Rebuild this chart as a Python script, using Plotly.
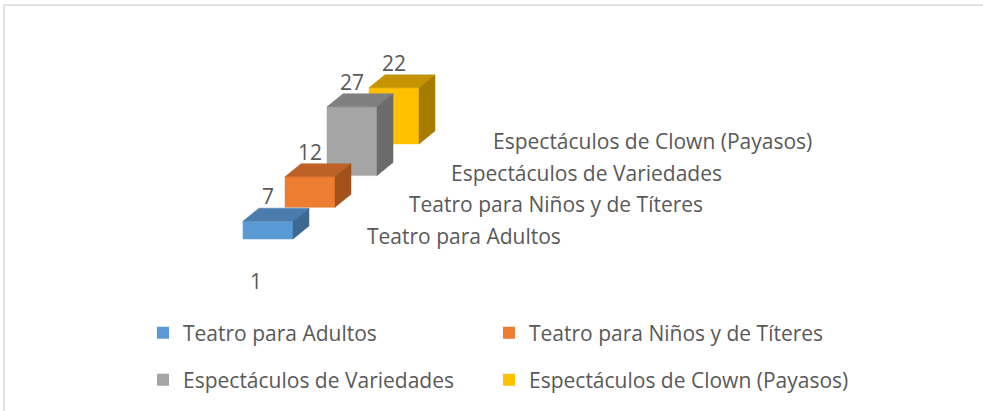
import plotly.graph_objects as go

# ---- data ----
series_names = ["Teatro para Adultos", "Teatro para Niños y de Títeres",
                "Espectáculos de Variedades", "Espectáculos de Clown (Payasos)"]
values = [7, 12, 27, 22]
category_labels = ["1"]

front_colors = ["#5B9BD5", "#ED7D31", "#A5A5A5", "#FFC000"]
top_colors = ["#4A7DAE", "#BE6126", "#7F7F7F", "#C59400"]
side_colors = ["#3D6892", "#A0511C", "#6B6B6B", "#A67C00"]

# ---- geometry of the oblique 3D projection (in axis units) ----
W = 983
H = 411
px_per_x = 50.0          # pixels per x unit (bar width = 1)
px_per_y = 2.55          # pixels per value unit
x0_px, y0_px = 243, 239  # where the first bar's front-bottom-left sits
bar_w = 1.0
step_x = 42 / px_per_x   # series (depth axis) offset
step_y = 31.7 / px_per_y
depth_x = 16 / px_per_x  # box depth
depth_y = 13 / px_per_y

xr = [-x0_px / px_per_x, (W - x0_px) / px_per_x]
yr = [-(H - y0_px) / px_per_y, y0_px / px_per_y]

FONT = "Open Sans"
TXT = "#595959"
FS = 21

fig = go.Figure()
annotations = []

order = list(range(len(values)))[::-1]  # back to front
for i in order:
    v = values[i]
    xs = i * step_x
    b = i * step_y
    t = b + v
    faces = [
        ([xs, xs + bar_w, xs + bar_w, xs, xs], [b, b, t, t, b], front_colors[i]),
        ([xs, xs + bar_w, xs + bar_w + depth_x, xs + depth_x, xs],
         [t, t, t + depth_y, t + depth_y, t], top_colors[i]),
        ([xs + bar_w, xs + bar_w + depth_x, xs + bar_w + depth_x, xs + bar_w, xs + bar_w],
         [b, b + depth_y, t + depth_y, t, b], side_colors[i]),
    ]
    for fx, fy, col in faces:
        fig.add_trace(go.Scatter(x=fx, y=fy, fill="toself", fillcolor=col, mode="lines",
                                 line=dict(color=col, width=0.5), hoverinfo="skip",
                                 showlegend=False))
    annotations.append(dict(x=xs + bar_w / 2, y=t + depth_y, text=str(v), showarrow=False,
                            xanchor="center", yanchor="middle", yshift=12,
                            font=dict(family=FONT, size=FS, color=TXT)))
    annotations.append(dict(x=xs + 122 / px_per_x, y=b, text=series_names[i], showarrow=False,
                            xanchor="left", yanchor="middle", yshift=3,
                            font=dict(family=FONT, size=FS, color=TXT)))

annotations.append(dict(x=bar_w / 2, y=0, text=category_labels[0], showarrow=False,
                        xanchor="center", yanchor="middle", xshift=-12, yshift=-42,
                        font=dict(family=FONT, size=FS, color=TXT)))

# legend traces: 2 x 2 grid, one legend box per entry
legend_ids = ["legend", "legend2", "legend3", "legend4"]
for i, name in enumerate(series_names):
    fig.add_trace(go.Scatter(x=[None], y=[None], mode="markers", name=name,
                             marker=dict(symbol="square", size=12, color=front_colors[i]),
                             legend=legend_ids[i]))

legend_common = dict(orientation="h", xanchor="left", yanchor="middle",
                     font=dict(family=FONT, size=FS, color=TXT),
                     bgcolor="rgba(0,0,0,0)")
col_x = [143, 489]
row_y = [333, 380]
legend_layout = {}
for i, lid in enumerate(legend_ids):
    legend_layout[lid] = dict(x=col_x[i % 2] / W, y=1 - row_y[i // 2] / H, **legend_common)

fig.update_layout(
    width=W, height=H,
    margin=dict(l=0, r=0, t=0, b=0),
    paper_bgcolor="white", plot_bgcolor="white",
    xaxis=dict(range=xr, visible=False, fixedrange=True),
    yaxis=dict(range=yr, visible=False, fixedrange=True),
    annotations=annotations,
    shapes=[
        dict(type="line", xref="paper", yref="paper", x0=4 / W, x1=1, y0=1 - 5 / H, y1=1 - 5 / H,
             line=dict(color="#D9D9D9", width=1.5)),
        dict(type="line", xref="paper", yref="paper", x0=4 / W, x1=4 / W, y0=0, y1=1 - 5 / H,
             line=dict(color="#D9D9D9", width=1.5)),
    ],
    **legend_layout,
)

fig.write_html("out.html",
               post_script="document.body.style.margin='0';document.body.style.overflow='hidden';",
               config={"displayModeBar": False})
